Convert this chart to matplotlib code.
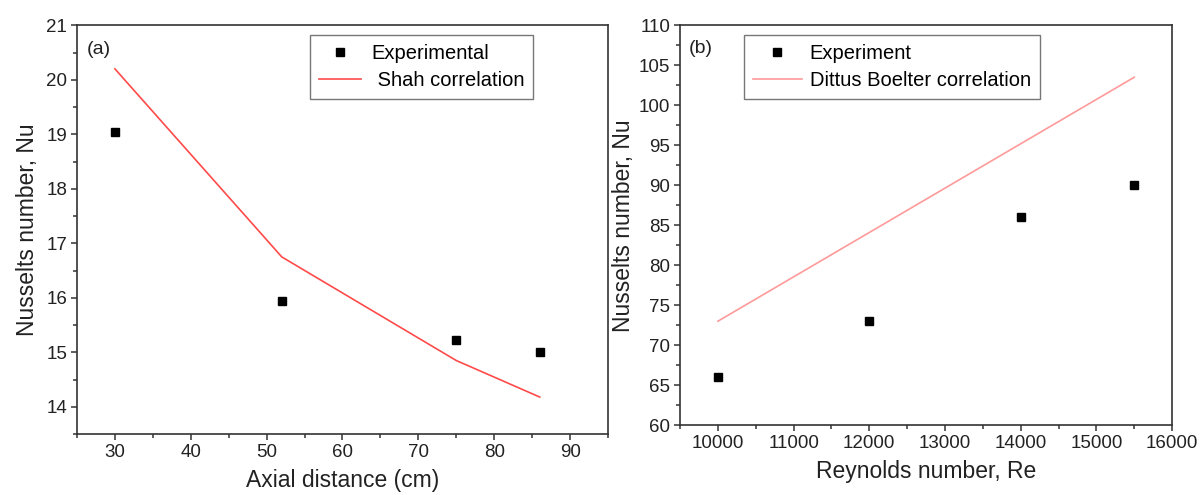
import matplotlib.pyplot as plt
from matplotlib.ticker import MultipleLocator

plt.rcParams['font.family'] = ['Liberation Sans', 'DejaVu Sans']

# (a) axial distance vs Nu
axial_exp = [30, 52, 75, 86]
nu_exp_a = [19.05, 15.95, 15.22, 15.0]
axial_shah = [30, 52, 75, 86]
nu_shah = [20.2, 16.75, 14.85, 14.18]

# (b) Reynolds number vs Nu
re_exp = [10000, 12000, 14000, 15500]
nu_exp_b = [66, 73, 86, 90]
re_db = [10000, 15500]
nu_db = [73, 103.5]

fig = plt.figure(figsize=(12.03, 4.95), dpi=100)
ax1 = fig.add_axes([0.064, 0.123, 0.4414, 0.826])
ax2 = fig.add_axes([0.5653, 0.141, 0.409, 0.808])


def style(ax):
    for s in ax.spines.values():
        s.set_color('#333333')
        s.set_linewidth(1.2)
    ax.tick_params(which='both', direction='out', top=False, right=False,
                   colors='#333333', labelcolor='#222222', labelsize=13.5)
    ax.tick_params(which='major', length=4, width=1.1, pad=3)
    ax.tick_params(which='minor', length=3, width=1.1)


ax1.plot(axial_exp, nu_exp_a, 's', color='black', markersize=6, label='Experimental')
ax1.plot(axial_shah, nu_shah, '-', color='#ff4a4a', linewidth=1.2, label=' Shah correlation')
ax1.set_xlim(25, 95)
ax1.set_ylim(13.5, 21)
ax1.xaxis.set_major_locator(MultipleLocator(10))
ax1.xaxis.set_minor_locator(MultipleLocator(5))
ax1.yaxis.set_major_locator(MultipleLocator(1))
ax1.yaxis.set_minor_locator(MultipleLocator(0.5))
ax1.set_xticks(range(30, 91, 10))
ax1.set_xlabel('Axial distance (cm)', fontsize=16.5, color='#222222', labelpad=6)
ax1.set_ylabel('Nusselts number, Nu', fontsize=16.5, color='#222222', labelpad=5)
ax1.text(0.018, 0.93, '(a)', transform=ax1.transAxes, fontsize=14, color='#222222')
leg1 = ax1.legend(loc='upper left', bbox_to_anchor=(0.42, 1.0), fontsize=14.5,
                  fancybox=False, edgecolor='#777777', framealpha=1,
                  borderpad=0.45, handlelength=2.1, handletextpad=0.5, labelspacing=0.4)
leg1.get_frame().set_linewidth(1.0)
style(ax1)

ax2.plot(re_exp, nu_exp_b, 's', color='black', markersize=6, label='Experiment')
ax2.plot(re_db, nu_db, '-', color='#ff9a9a', linewidth=1.2, label='Dittus Boelter correlation')
ax2.set_xlim(9500, 16000)
ax2.set_ylim(60, 110)
ax2.xaxis.set_major_locator(MultipleLocator(1000))
ax2.xaxis.set_minor_locator(MultipleLocator(500))
ax2.yaxis.set_major_locator(MultipleLocator(5))
ax2.yaxis.set_minor_locator(MultipleLocator(2.5))
ax2.set_xlabel('Reynolds number, Re', fontsize=16.5, color='#222222', labelpad=6)
ax2.set_ylabel('Nusselts number, Nu', fontsize=16.5, color='#222222', labelpad=3)
ax2.text(0.018, 0.93, '(b)', transform=ax2.transAxes, fontsize=14, color='#222222')
leg2 = ax2.legend(loc='upper left', bbox_to_anchor=(0.11, 1.0), fontsize=14.5,
                  fancybox=False, edgecolor='#777777', framealpha=1,
                  borderpad=0.45, handlelength=2.4, handletextpad=0.4, labelspacing=0.4)
leg2.get_frame().set_linewidth(1.0)
style(ax2)

fig.savefig('out.png', dpi=100)
